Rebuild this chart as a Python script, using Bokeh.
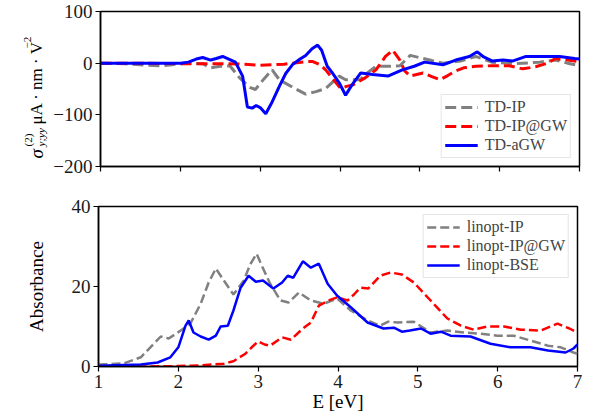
import math
from bokeh.plotting import figure
from bokeh.layouts import column, row
from bokeh.models import Range1d, FixedTicker, Legend, CustomJSTickFormatter
from bokeh.core.properties import value
from bokeh.embed import file_html
from bokeh.resources import INLINE

# ---------------- data ----------------
# Top panel: sigma^(2)_{y;yy}
td_ip_E = [1.0, 1.3, 1.6, 1.75, 1.9, 2.07, 2.28, 2.38, 2.5, 2.62, 2.74, 2.87, 2.94, 3.05,
           3.15, 3.24, 3.41, 3.57, 3.7, 3.82, 3.99, 4.07, 4.13, 4.25, 4.35, 4.45, 4.6,
           4.75, 4.88, 5.04, 5.15, 5.29, 5.51, 5.7, 5.9, 6.2, 6.5, 6.7, 6.85, 7.0]
td_ip_v = [0, -1, -4, -5, -3, 0, -1, -9, -6, -5, -28, -47, -51, -30,
           -13, -32, -47, -60, -55, -49, -25, -32, -32, -32, -18, -6, -6,
           -5, 15, 9, 5, 0, 4, 13, 2, -1, 2, 6, 0, -5]

td_ipgw_E = [1.0, 1.5, 2.0, 2.5, 2.8, 3.0, 3.3, 3.57, 3.66, 3.75, 3.82, 3.92, 4.01, 4.08,
             4.16, 4.24, 4.32, 4.45, 4.57, 4.66, 4.75, 4.81, 4.88, 4.96, 5.04, 5.15, 5.25,
             5.35, 5.45, 5.55, 5.7, 5.9, 6.12, 6.29, 6.45, 6.6, 6.7, 6.85, 7.0]
td_ipgw_v = [0, 0, -1, -1, -2, -4, -2, 3, 3, -3, -13, -32, -49, -45,
             -42, -35, -28, -13, 13, 25, 6, -15, -25, -22, -19, -26, -32,
             -24, -15, -9, -6, -5, -5, -11, -7, 0, 9, 6, 3]

td_agw_E = [1.0, 1.5, 2.0, 2.1, 2.2, 2.28, 2.38, 2.45, 2.53, 2.62, 2.69, 2.78, 2.84, 2.9,
            2.95, 3.0, 3.07, 3.15, 3.24, 3.32, 3.41, 3.5, 3.57, 3.65, 3.72, 3.77, 3.84,
            3.9, 3.99, 4.07, 4.15, 4.26, 4.41, 4.6, 4.78, 4.93, 5.06, 5.29, 5.45, 5.62,
            5.72, 5.8, 5.91, 6.04, 6.16, 6.33, 6.54, 6.75, 6.94, 7.0]
td_agw_v = [0, 0, 0, 2, 8, 11, 6, 9, 13, 7, 2, -25, -85, -87,
            -82, -86, -98, -75, -45, -20, -2, 8, 15, 28, 35, 25, -6,
            -18, -38, -62, -42, -19, -22, -25, -13, -6, 2, -3, 6, 13,
            22, 12, 4, 6, 4, 13, 13, 13, 9, 8]

# Bottom panel: absorbance
lin_ip_E = [1.0, 1.31, 1.53, 1.65, 1.78, 1.88, 2.03, 2.15, 2.28, 2.38, 2.47, 2.57, 2.69,
            2.82, 2.9, 2.98, 3.05, 3.15, 3.28, 3.38, 3.51, 3.66, 3.82, 3.99, 4.16, 4.37,
            4.53, 4.63, 4.75, 4.95, 5.16, 5.37, 5.57, 5.79, 6.0, 6.2, 6.41, 6.63, 6.79,
            6.95, 7.0]
lin_ip_v = [0.5, 0.75, 2.3, 4.8, 7.5, 7, 9, 10.7, 15.7, 21, 24.5, 21.5, 18,
            21.5, 25.5, 28.2, 25, 20.7, 16.5, 16, 18.5, 16.5, 15.7, 17, 14, 11.5,
            10.2, 11.2, 11, 11.2, 8.5, 9, 8.5, 8.2, 7.7, 7.7, 6.5, 5.2, 4.8,
            3.5, 3.2]

lin_ipgw_E = [1.0, 1.5, 2.0, 2.3, 2.57, 2.69, 2.84, 2.93, 3.0, 3.08, 3.15, 3.3, 3.41,
              3.56, 3.66, 3.76, 3.88, 3.99, 4.12, 4.2, 4.28, 4.38, 4.53, 4.66, 4.8, 4.95,
              5.16, 5.37, 5.54, 5.7, 5.87, 6.08, 6.29, 6.54, 6.75, 6.9, 7.0]
lin_ipgw_v = [0, 0, 0.1, 0.3, 0.7, 1.3, 3.2, 5, 6.3, 5.5, 5.2, 7.3, 6.7,
              9.5, 11, 15.2, 16.5, 17.3, 16.5, 18, 19.7, 19.5, 22.7, 23.5, 23, 21,
              16.5, 12, 10.2, 9.2, 10, 10, 9.2, 9, 10.7, 9.5, 8.5]

lin_bse_E = [1.0, 1.53, 1.74, 1.9, 2.0, 2.09, 2.13, 2.19, 2.28, 2.38, 2.47, 2.53, 2.62,
             2.69, 2.78, 2.88, 2.97, 3.06, 3.19, 3.3, 3.37, 3.44, 3.56, 3.66, 3.76, 3.87,
             3.99, 4.16, 4.37, 4.57, 4.7, 4.8, 4.9, 5.04, 5.16, 5.29, 5.41, 5.66, 5.91,
             6.16, 6.41, 6.63, 6.85, 6.95, 7.0]
lin_bse_v = [0.2, 0.5, 1, 2.3, 4.8, 10.2, 11.5, 8.5, 7.5, 6.7, 7.7, 10, 10.2,
             14, 19.7, 22.7, 21.2, 21.5, 19.5, 21, 22.7, 22.2, 26.3, 24.7, 25.7, 20.7,
             17.7, 14.8, 11, 9.5, 9.7, 8.7, 9, 9.5, 8.2, 8.7, 7.7, 7.5, 5.7,
             4.8, 4.8, 4, 3.5, 4.5, 5.5]

x_ticks = [1, 2, 3, 4, 5, 6, 7]
top_y_ticks = [-200, -100, 0, 100]
bot_y_ticks = [0, 20, 40]

# pieces of the top y-axis label: sigma^(2)_{y;yy}  uA . nm . V^-2
ylab_text = ["\u03c3", "(2)", "y;yy", "\u03bcA \u00b7 nm \u00b7 V", "\u22122"]

# ---------------- styling ----------------
SERIF = "Liberation Serif"
FRAME_W = 479
TOP_BT = 11
TOP_FH = 155
TOP_BB = 20
BOT_FH = 160
LAB_W = 50
LEFT = 98
TOP_H = TOP_BT + TOP_FH + TOP_BB


def style(p):
    p.outline_line_color = "black"
    p.outline_line_width = 1.5
    p.outline_line_alpha = 1
    p.grid.visible = False
    for ax in (p.xaxis, p.yaxis):
        ax.axis_line_width = 1.5
        ax.major_tick_line_width = 1.2
        ax.major_tick_in = 0
        ax.major_tick_out = 5
        ax.minor_tick_line_color = None
        ax.major_label_text_font = SERIF
        ax.major_label_text_font_size = "19px"
        ax.major_label_text_color = "#1a1a1a"
        ax.major_label_standoff = 3
        ax.axis_label_text_font = SERIF
        ax.axis_label_text_font_style = "normal"
        ax.axis_label_text_color = "black"


def style_legend(lg):
    lg.label_text_font = SERIF
    lg.label_text_font_size = "16px"
    lg.glyph_width = 33
    lg.glyph_height = 18
    lg.label_height = 18
    lg.label_standoff = 7
    lg.spacing = 1
    lg.padding = 3
    lg.margin = 8
    lg.border_line_color = "#cccccc"
    lg.border_line_width = 1
    lg.background_fill_alpha = 0.8


# ---------------- narrow panel holding the top y-axis label ----------------
lab = figure(frame_width=LAB_W, frame_height=TOP_H, output_backend="svg",
             toolbar_location=None, x_range=Range1d(0, LAB_W), y_range=Range1d(0, TOP_H),
             x_axis_type=None, y_axis_type=None, min_border=0)
lab.outline_line_color = None
lab.grid.visible = False

# (page px, page py, font size, style) of each label piece
lab_layout = [(36, 147, "19px", "italic"),
              (27, 135, "11px", "normal"),
              (40, 135, "11px", "italic"),
              (36, 113, "17px", "normal"),
              (27, 37, "11px", "normal")]
for txt, (px, py, fs, st) in zip(ylab_text, lab_layout):
    lab.text(x=[px], y=[TOP_H - py], text=[txt], angle=math.pi / 2,
             text_font=value(SERIF), text_font_size=value(fs),
             text_font_style=st, text_align="left", text_baseline="alphabetic",
             text_color="black")

# ---------------- top figure ----------------
p1 = figure(frame_width=FRAME_W, frame_height=TOP_FH, output_backend="svg",
            toolbar_location=None, x_range=Range1d(1, 7), y_range=Range1d(-200, 100),
            min_border_left=LEFT - LAB_W, min_border_right=12, min_border_top=TOP_BT,
            min_border_bottom=TOP_BB)
style(p1)
p1.xaxis.ticker = FixedTicker(ticks=x_ticks)
p1.xaxis.formatter = CustomJSTickFormatter(code="return ''")
p1.yaxis.ticker = FixedTicker(ticks=top_y_ticks)
p1.yaxis.major_label_overrides = {t: (str(t).replace("-", "\u2212")) for t in top_y_ticks}

r1 = p1.line(td_ip_E, td_ip_v, line_color="gray", line_width=3, line_dash="11 5")
r2 = p1.line(td_ipgw_E, td_ipgw_v, line_color="red", line_width=3, line_dash="11 5")
r3 = p1.line(td_agw_E, td_agw_v, line_color="blue", line_width=3)
lg1 = Legend(items=[("TD-IP", [r1]), ("TD-IP@GW", [r2]), ("TD-aGW", [r3])],
             location="bottom_right")
style_legend(lg1)
p1.add_layout(lg1)

# ---------------- bottom figure ----------------
p2 = figure(frame_width=FRAME_W, frame_height=BOT_FH, output_backend="svg",
            toolbar_location=None, x_range=Range1d(1, 7), y_range=Range1d(0, 40),
            min_border_left=LEFT, min_border_right=12, min_border_top=20,
            min_border_bottom=48)
style(p2)
p2.xaxis.ticker = FixedTicker(ticks=x_ticks)
p2.yaxis.ticker = FixedTicker(ticks=bot_y_ticks)
p2.xaxis.axis_label = "E [eV]"
p2.xaxis.axis_label_text_font_size = "19px"
p2.xaxis.axis_label_standoff = 0
p2.yaxis.axis_label = "Absorbance"
p2.yaxis.axis_label_text_font_size = "19px"
p2.yaxis.axis_label_standoff = 22

s1 = p2.line(lin_ip_E, lin_ip_v, line_color="gray", line_width=2.5, line_dash="9 4")
s2 = p2.line(lin_ipgw_E, lin_ipgw_v, line_color="red", line_width=2.5, line_dash="9 4")
s3 = p2.line(lin_bse_E, lin_bse_v, line_color="blue", line_width=2.5)
lg2 = Legend(items=[("linopt-IP", [s1]), ("linopt-IP@GW", [s2]), ("linopt-BSE", [s3])],
             location="top_right")
style_legend(lg2)
p2.add_layout(lg2)

layout = column(row(lab, p1, spacing=0), p2, spacing=0)
open("out.html", "w").write(file_html(layout, INLINE))
